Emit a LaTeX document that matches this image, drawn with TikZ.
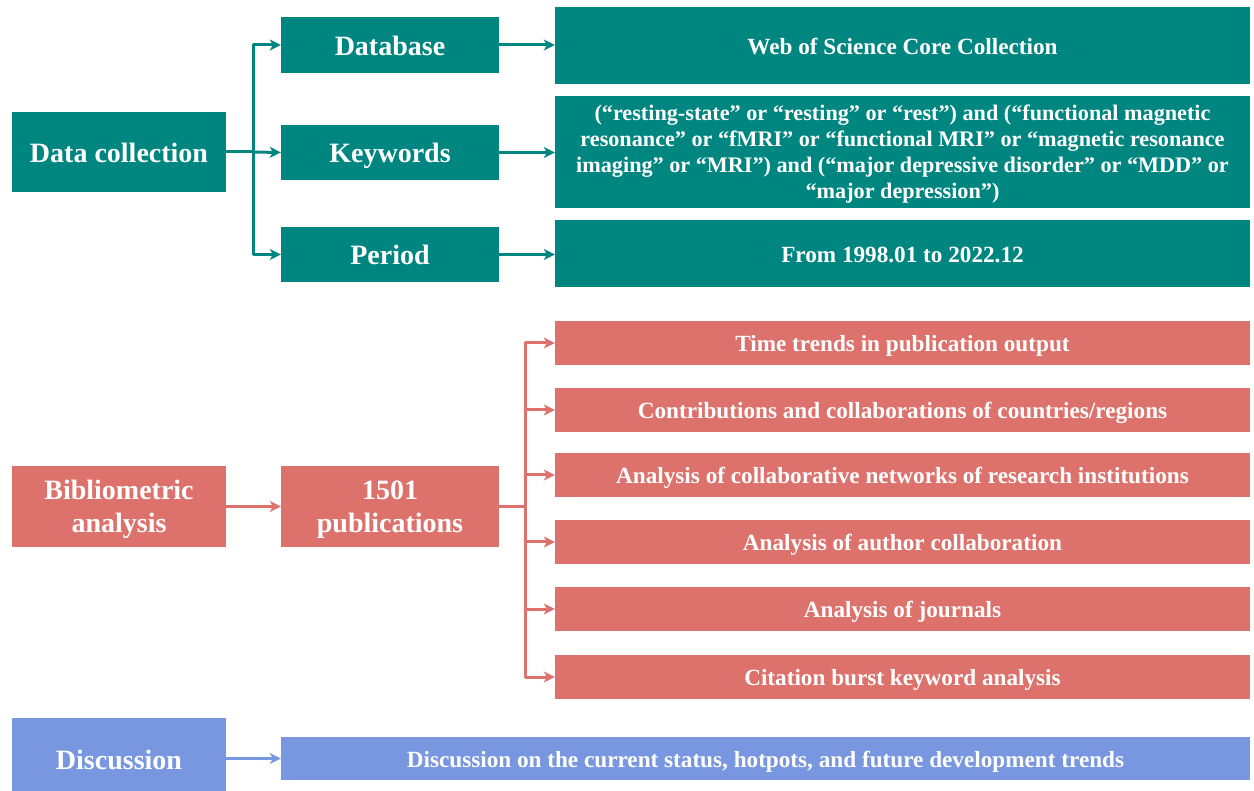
\documentclass[tikz,border=0pt]{standalone}
\usepackage{fontspec}
\setmainfont{Liberation Serif}
\usetikzlibrary{arrows.meta}
\definecolor{teal1}{RGB}{0,134,128}
\definecolor{red1}{RGB}{221,114,108}
\definecolor{blue1}{RGB}{120,151,224}
\tikzset{
  box/.style={draw=none, inner sep=0pt, align=center, text=white, font=\bfseries, text depth=0pt},
  big/.style={font=\bfseries\fontsize{28}{33}\selectfont},
  bigone/.style={big, text height=20.5pt, text depth=0pt},
  small/.style={font=\bfseries\fontsize{23.2}{26}\selectfont, text height=17.4pt, text depth=0pt},
  para/.style={font=\bfseries\fontsize{22.2}{26}\selectfont},
  tb/.style={box, fill=teal1},
  rb/.style={box, fill=red1},
  bb/.style={box, fill=blue1},
  conn/.style={line width=3pt, line join=round},
  arr/.style={conn, -{Stealth[length=11pt,width=11pt,inset=3pt]}},
}
\begin{document}
\begin{tikzpicture}[x=1pt,y=-1pt]
\useasboundingbox (0,0) rectangle (1254,791);
% teal section
\node[tb,bigone,minimum width=214,minimum height=80] (dc) at (119,152) {Data collection};
\node[tb,bigone,minimum width=218,minimum height=56] (db) at (390,45) {Database};
\node[tb,bigone,minimum width=218,minimum height=55] (kw) at (390,152.5) {Keywords};
\node[tb,bigone,minimum width=218,minimum height=55] (pe) at (390,254.5) {Period};
\node[tb,small,minimum width=695,minimum height=77] (wos) at (902.5,45.5) {Web of Science Core Collection};
\node[tb,para,minimum width=695,minimum height=112] (kwt) at (902.5,152) {(“resting-state” or “resting” or “rest”) and (“functional magnetic\\resonance” or “fMRI” or “functional MRI” or “magnetic resonance\\imaging” or “MRI”) and (“major depressive disorder” or “MDD” or\\“major depression”)};
\node[tb,small,minimum width=695,minimum height=67] (per) at (902.5,253.5) {From 1998.01 to 2022.12};
\coordinate (tj) at (253,152);
\draw[conn,teal1] (dc.east) -- (tj);
\draw[arr,teal1] (tj) |- (db.west);
\draw[arr,teal1] (tj) -- (kw.west);
\draw[arr,teal1] (tj) |- (pe.west);
\draw[arr,teal1] (db.east) -- (db.east -| wos.west);
\draw[arr,teal1] (kw.east) -- (kw.east -| kwt.west);
\draw[arr,teal1] (pe.east) -- (pe.east -| per.west);
% red section
\node[rb,big,minimum width=214,minimum height=81] (ba) at (119,506.5) {Bibliometric\\analysis};
\node[rb,big,minimum width=218,minimum height=81] (pub) at (390,506.5) {1501\\publications};
\node[rb,small,minimum width=695,minimum height=44] (r1) at (902.5,343) {Time trends in publication output};
\node[rb,small,minimum width=695,minimum height=44] (r2) at (902.5,410) {Contributions and collaborations of countries/regions};
\node[rb,small,minimum width=695,minimum height=44] (r3) at (902.5,475) {Analysis of collaborative networks of research institutions};
\node[rb,small,minimum width=695,minimum height=44] (r4) at (902.5,542) {Analysis of author collaboration};
\node[rb,small,minimum width=695,minimum height=44] (r5) at (902.5,609) {Analysis of journals};
\node[rb,small,minimum width=695,minimum height=44] (r6) at (902.5,677) {Citation burst keyword analysis};
\draw[arr,red1] (ba.east) -- (pub.west);
\coordinate (rj) at (525,507);
\draw[conn,red1] (pub.east |- rj) -- (rj);
\foreach \n in {r1,r2,r3,r4,r5,r6}{
  \draw[arr,red1] (rj) |- (\n.west);
}
% blue section
\node[bb,big,text height=29.5pt,text depth=0pt,minimum width=214,minimum height=73] (disc) at (119,754.5) {Discussion};
\node[bb,small,minimum width=969,minimum height=43] (dr) at (765.5,758.5) {Discussion on the current status, hotpots, and future development trends};
\draw[arr,blue1] (disc.east |- dr.west) -- (dr.west);
\end{tikzpicture}
\end{document}
